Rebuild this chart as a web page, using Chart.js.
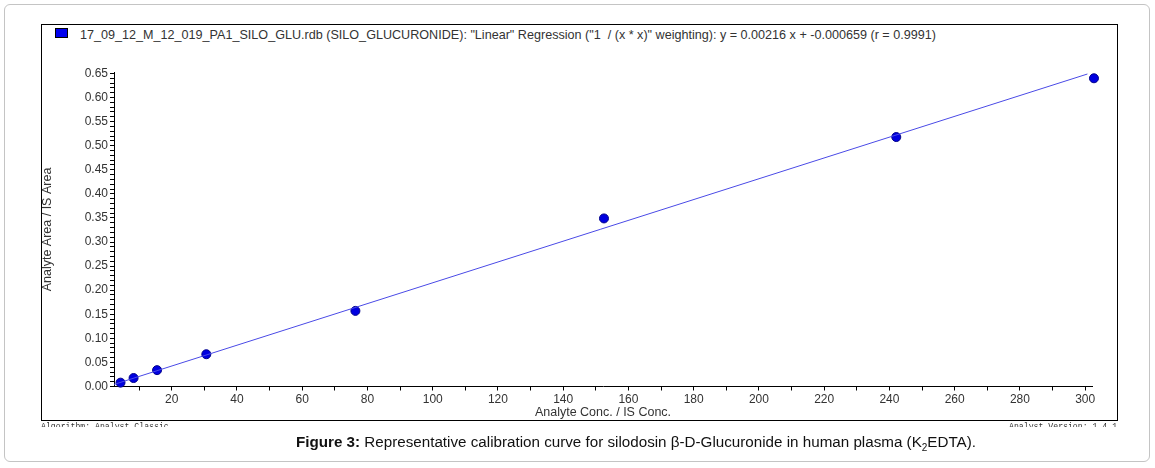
<!DOCTYPE html>
<html lang="en">
<head>
    <meta charset="UTF-8">
    <title>Calibration Curve - Silodosin Glucuronide</title>
    <script src="https://cdn.jsdelivr.net/npm/chart.js@4.4.3/dist/chart.umd.min.js"></script>
    <style>
        html, body {
            margin: 0;
            padding: 0;
            background: #fff;
            font-family: 'Liberation Sans', Arial, sans-serif;
        }
        .page {
            position: relative;
            width: 1155px;
            height: 468px;
            overflow: hidden;
        }
        .card {
            position: absolute;
            left: 4px; top: 4px;
            width: 1144px; height: 456px;
            border: 1px solid #c4c4c4;
            border-radius: 6px;
        }
        .frame {
            position: absolute;
            left: 41px; top: 24px;
            width: 1075px; height: 395px;
            border: 1px solid #000;
        }
        .legend {
            position: absolute;
            left: 55px; top: 28px;
            font-size: 12.6px;
            color: #333;
            white-space: pre;
        }
        .legend .swatch {
            display: inline-block;
            width: 11px; height: 8px;
            background: #0000ee;
            border: 1px solid #000;
            margin-right: 12px;
            vertical-align: 1px;
        }
        .chart-box {
            position: absolute;
            left: 0; top: 0;
            width: 1155px; height: 468px;
        }
        .clip {
            position: absolute;
            top: 422px;
            height: 5px;
            overflow: hidden;
            font-family: 'Liberation Mono', 'DejaVu Sans Mono', monospace;
            font-size: 8.2px;
            line-height: 10px;
            color: #333;
            white-space: pre;
        }
        .caption {
            position: absolute;
            left: 0; top: 433px;
            width: 1272px;
            text-align: center;
            font-size: 15.2px;
            color: #111;
        }
        .caption sub { font-size: 10px; }
    </style>
</head>
<body>
<div class="page">
    <div class="card"></div>
    <div class="frame"></div>
    <div class="legend"><span class="swatch"></span>17_09_12_M_12_019_PA1_SILO_GLU.rdb (SILO_GLUCURONIDE): "Linear" Regression ("1  / (x * x)" weighting): y = 0.00216 x + -0.000659 (r = 0.9991)</div>
    <div class="chart-box"><canvas id="calChart" width="1155" height="468"></canvas></div>
    <div class="clip" style="left:41px;">Algorithm: Analyst Classic</div>
    <div class="clip" style="left:1009px;">Analyst Version: 1.4.1</div>
    <div class="caption"><b>Figure 3:</b> Representative calibration curve for silodosin β-D-Glucuronide in human plasma (K<sub>2</sub>EDTA).</div>
</div>

<script>
    // calibration standards
    const concRatio = [4.3, 8.3, 15.5, 30.6, 76.3, 152.5, 242.1, 302.7];
    const areaRatio = [0.008, 0.0176, 0.034, 0.067, 0.157, 0.349, 0.518, 0.640];

    // regression from the legend
    const slope = 0.00216;
    const intercept = -0.000659;
    const fitRange = [2.3, 300.7];

    // axis ticks: x every 10 (label every 20), y every 0.01 (label every 0.05)
    const xTicks = [10, 20, 30, 40, 50, 60, 70, 80, 90, 100, 110, 120, 130, 140, 150,
                    160, 170, 180, 190, 200, 210, 220, 230, 240, 250, 260, 270, 280, 290, 300];
    const xLabels = [20, 40, 60, 80, 100, 120, 140, 160, 180, 200, 220, 240, 260, 280, 300];
    const yLabels = [0.00, 0.05, 0.10, 0.15, 0.20, 0.25, 0.30, 0.35, 0.40, 0.45, 0.50, 0.55, 0.60, 0.65];

    const xMin = 2.3, xMax = 302.1;
    const yMin = 0, yMax = 0.652;

    const fitLine = fitRange.map(x => ({ x: x, y: slope * x + intercept }));
    const points = concRatio.map((x, i) => ({ x: x, y: areaRatio[i] }));

    const yTicks = [];
    for (let i = 0; i <= 65; i++) yTicks.push(i / 100);

    const tickFont = { family: "'Liberation Sans', Arial, sans-serif", size: 12 };
    const titleFont = { family: "'Liberation Sans', Arial, sans-serif", size: 12.5 };

    new Chart(document.getElementById('calChart'), {
        type: 'scatter',
        data: {
            datasets: [
                {
                    label: 'fit',
                    data: fitLine,
                    showLine: true,
                    borderColor: '#4a4ae6',
                    borderWidth: 1,
                    pointRadius: 0,
                    clip: false
                },
                {
                    label: 'standards',
                    data: points,
                    backgroundColor: '#0000e0',
                    borderColor: '#00008a',
                    borderWidth: 1,
                    pointRadius: 4.5,
                    clip: false
                }
            ]
        },
        options: {
            responsive: false,
            animation: false,
            layout: { padding: { left: 0, top: 72.5, right: 63, bottom: 48 } },
            plugins: { legend: { display: false }, tooltip: { enabled: false } },
            scales: {
                x: {
                    type: 'linear',
                    min: xMin,
                    max: xMax,
                    afterBuildTicks: s => { s.ticks = xTicks.map(v => ({ value: v })); },
                    afterFit: s => { s.height = 33.5; },
                    ticks: {
                        color: '#333',
                        font: tickFont,
                        padding: 2,
                        maxRotation: 0,
                        autoSkip: false,
                        callback: v => (xLabels.includes(Math.round(v)) ? String(Math.round(v)) : '')
                    },
                    grid: { drawOnChartArea: false, drawTicks: true, tickLength: 4, color: '#000' },
                    border: { display: true, color: '#000', width: 1 },
                    title: {
                        display: true,
                        text: 'Analyte Conc. / IS Conc.',
                        color: '#333',
                        font: titleFont,
                        padding: { top: 0, bottom: 0 }
                    }
                },
                y: {
                    type: 'linear',
                    min: yMin,
                    max: yMax,
                    afterBuildTicks: s => { s.ticks = yTicks.map(v => ({ value: v })); },
                    afterFit: s => { s.width = 114; },
                    ticks: {
                        color: '#333',
                        font: tickFont,
                        padding: 2,
                        autoSkip: false,
                        callback: v => (yLabels.some(l => Math.abs(l - v) < 1e-6) ? v.toFixed(2) : '')
                    },
                    grid: { drawOnChartArea: false, drawTicks: true, tickLength: 4, color: '#000' },
                    border: { display: true, color: '#000', width: 1 },
                    title: {
                        display: true,
                        text: 'Analyte Area / IS Area',
                        color: '#333',
                        font: titleFont,
                        padding: { top: 40, bottom: 0 }
                    }
                }
            }
        }
    });
</script>
</body>
</html>
